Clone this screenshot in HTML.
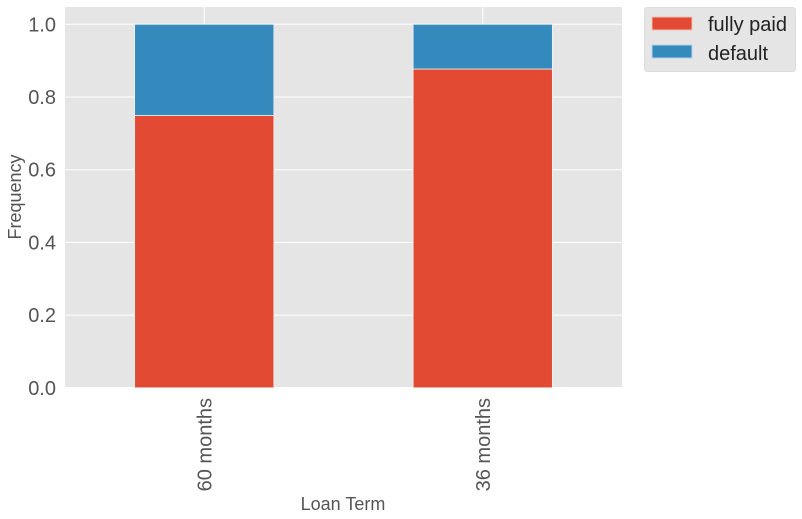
<!DOCTYPE html>
<html><head><meta charset="utf-8"><style>
body{margin:0;background:#fff;}
svg{display:block;font-family:"Liberation Sans",Arial,sans-serif;}
</style></head><body>
<svg id="chart" width="802" height="519">
<rect x="65" y="7" width="557" height="380" fill="#e5e5e5"/>
<g id="grid"></g><g id="bars"></g><g id="ticks"></g>
<text transform="translate(21,197) rotate(-90)" text-anchor="middle" font-size="18" fill="#555">Frequency</text>
<text x="343" y="510" text-anchor="middle" font-size="18" fill="#555">Loan Term</text>
<g>
<rect x="644.5" y="7.5" width="151" height="64" rx="3" fill="#e5e5e5" stroke="#ddd"/>
<rect x="652" y="17" width="40" height="13" fill="#e24a33" stroke="#f2c0b6"/>
<text x="708" y="31" font-size="20" fill="#222">fully paid</text>
<rect x="652" y="45" width="40" height="13" fill="#348abd" stroke="#b6d3e7"/>
<text x="708" y="60" font-size="20" fill="#222">default</text>
</g>
</svg>
<script>
const categories=["60 months","36 months"];
const fullyPaid=[0.749,0.877];
const defaulted=[0.251,0.123];
const yTicks=[0,0.2,0.4,0.6,0.8,1.0];
const NS="http://www.w3.org/2000/svg";
const L=65,R=622,B=387.8,PX=363.5;
const y=v=>B-v*PX;
const x=i=>L+(i+0.5)*((R-L)/categories.length*1);
const unit=(R-L)/2;
function mk(t,a,p){const e=document.createElementNS(NS,t);for(const k in a)e.setAttribute(k,a[k]);p.appendChild(e);return e;}
const grid=document.getElementById('grid'),bars=document.getElementById('bars'),ticks=document.getElementById('ticks');
yTicks.forEach(v=>{
 const l=mk('line',{x1:L,x2:R,y1:y(v),y2:y(v),stroke:'#fff','stroke-width':1},grid);
 
 
 const t=mk('text',{x:56,y:y(v)+7,'text-anchor':'end','font-size':20,fill:'#555'},ticks);
 t.textContent=v.toFixed(1);
 
 
});
categories.forEach((c,i)=>{
 const cx=L+(i+0.5)*unit;
 const g=mk('line',{x1:cx,x2:cx,y1:7,y2:B,stroke:'#fff','stroke-width':1},grid);
 
 
 const w=unit*0.5;
 const b1=mk('rect',{x:cx-w/2,y:y(fullyPaid[i]),width:w,height:fullyPaid[i]*PX,fill:'#e24a33',stroke:'#f0f0f0','stroke-width':0.8},bars);
 
 
 const b2=mk('rect',{x:cx-w/2,y:y(fullyPaid[i]+defaulted[i]),width:w,height:defaulted[i]*PX,fill:'#348abd',stroke:'#f0f0f0','stroke-width':0.8},bars);
 
 
 const t=mk('text',{transform:`translate(${cx+7},398) rotate(-90)`,'text-anchor':'end','font-size':20,fill:'#555'},ticks);
 t.textContent=c;
 
 
});
</script>
</body></html>
